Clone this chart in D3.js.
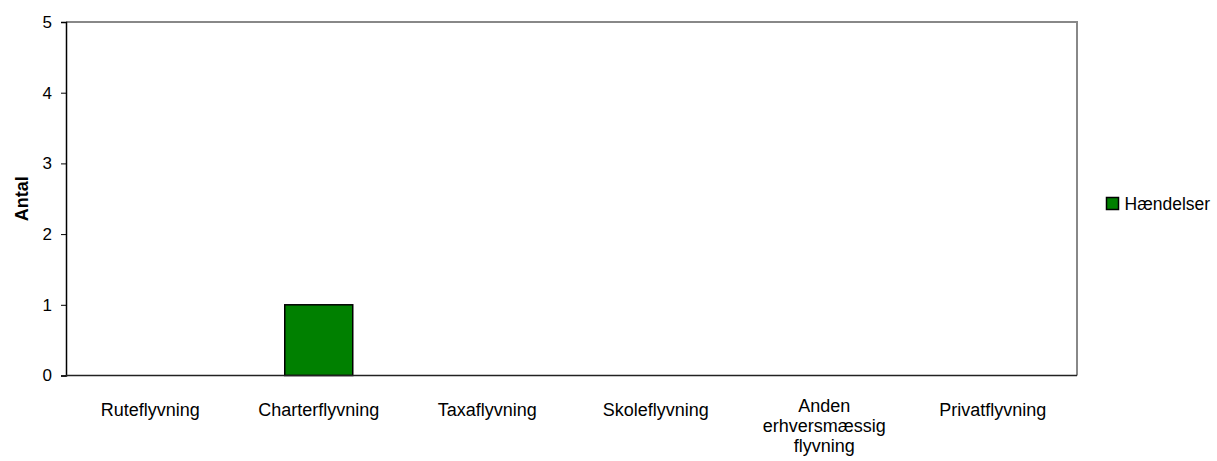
<!DOCTYPE html>
<html>
<head>
<meta charset="utf-8">
<script src="https://cdn.jsdelivr.net/npm/d3@7"></script>
<style>
  body { margin: 0; background: #fff; }
  text { font-family: "Liberation Sans", Arial, sans-serif; }
</style>
</head>
<body>
<svg id="canvas" width="1217" height="461"></svg>
<script>
// data
let categories = ['Ruteflyvning', 'Charterflyvning', 'Taxaflyvning', 'Skoleflyvning', 'Anden\nerhversmæssig\nflyvning', 'Privatflyvning']
let values = [0, 1, 0, 0, 0, 0]
let yTicks = [0, 1, 2, 3, 4, 5]
let seriesName = 'Hændelser'

let canvas = d3.select('#canvas')

let plotLeft = 66, plotTop = 22, plotRight = 1077, plotBottom = 375.5

let xBand = d3.scaleBand().domain(categories).range([plotLeft, plotRight])

let y = d3.scaleLinear()
    .domain([0, 5])
    .range([plotBottom, plotTop])

// plot border (top and right grey)
canvas.append('path')
    .attr('d', 'M' + plotLeft + ',' + plotTop + 'H' + plotRight + 'V' + plotBottom)
    .attr('fill', 'none')
    .attr('stroke', '#888')
    .attr('stroke-width', 2)

// bars
canvas.selectAll('rect.bar')
    .data(values)
    .enter()
    .append('rect')
    .attr('class', 'bar')
    .attr('x', (d, i) => xBand(categories[i]) + xBand.bandwidth() / 2 - 34)
    .attr('width', 68)
    .attr('y', (d) => y(d))
    .attr('height', (d) => y(0) - y(d))
    .attr('fill', '#008000')
    .attr('stroke', '#000')
    .attr('stroke-width', 1.5)
    .style('display', (d) => d > 0 ? null : 'none')

// y axis
let yAxis = canvas.append('g')
    .attr('transform', 'translate(' + plotLeft + ',0)')
    .call(d3.axisLeft(y).tickValues(yTicks).tickFormat(d3.format('d')).tickSize(5).tickPadding(9))
yAxis.select('.domain').attr('stroke', '#000').attr('stroke-width', 1.5)
yAxis.selectAll('.tick line').attr('stroke', '#000')
yAxis.selectAll('.tick text')
    .style('font-family', '"Liberation Sans", Arial, sans-serif')
    .style('font-size', '17px')
    .attr('fill', '#000')

// x axis line
canvas.append('line')
    .attr('x1', plotLeft).attr('x2', plotRight)
    .attr('y1', plotBottom).attr('y2', plotBottom)
    .attr('stroke', '#222')
    .attr('stroke-width', 1.5)

// category labels
canvas.selectAll('text.cat')
    .data(categories)
    .enter()
    .append('text')
    .attr('class', 'cat')
    .attr('text-anchor', 'middle')
    .style('font-size', '18px')
    .attr('fill', '#000')
    .each(function (d) {
        let lines = d.split('\n')
        let cx = xBand(d) + xBand.bandwidth() / 2
        let base = 416 - (lines.length - 1) * 2
        lines.forEach((line, i) => {
            d3.select(this).append('tspan')
                .attr('x', cx)
                .attr('y', base + i * 20)
                .text(line)
        })
    })

// axis title
canvas.append('text')
    .attr('transform', 'translate(28,' + ((plotTop + plotBottom) / 2) + ') rotate(-90)')
    .attr('text-anchor', 'middle')
    .style('font-size', '18px')
    .style('font-weight', 'bold')
    .text('Antal')

// legend
let legend = canvas.append('g').attr('transform', 'translate(1106.5,197.5)')
legend.append('rect')
    .attr('width', 12).attr('height', 12)
    .attr('fill', '#008000')
    .attr('stroke', '#000')
    .attr('stroke-width', 1.5)
legend.append('text')
    .attr('x', 18).attr('y', 12)
    .style('font-size', '17.5px')
    .text(seriesName)
</script>
</body>
</html>
